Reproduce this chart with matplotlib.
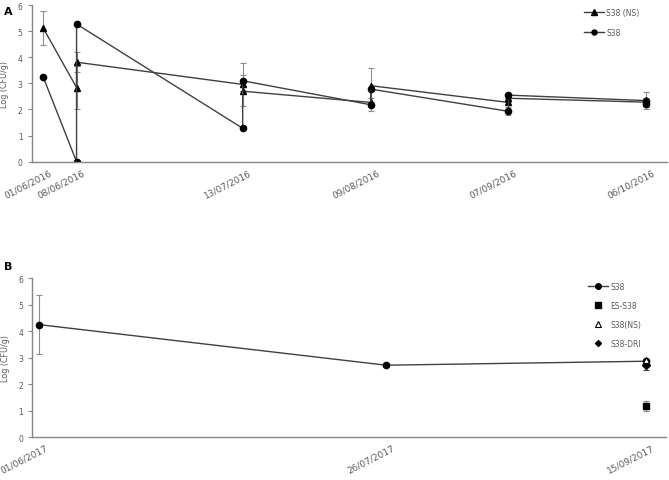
import numpy as np
import pandas as pd
import matplotlib
matplotlib.use('Agg')
import matplotlib.pyplot as plt
import matplotlib.dates as mdates
from matplotlib.lines import Line2D
from matplotlib.transforms import ScaledTranslation

# panel A - two measurements per sampling date, joined in order
a_dates = pd.to_datetime(['01/06/2016', '08/06/2016', '08/06/2016', '13/07/2016', '13/07/2016',
                          '09/08/2016', '09/08/2016', '07/09/2016', '07/09/2016', '06/10/2016',
                          '06/10/2016'], format='%d/%m/%Y')
a_tick_dates = pd.to_datetime(['01/06/2016', '08/06/2016', '13/07/2016', '09/08/2016',
                               '07/09/2016', '06/10/2016'], format='%d/%m/%Y')
ns_vals = [5.11, 2.84, 3.81, 2.96, 2.70, 2.27, 2.91, 2.27, 2.43, 2.28, 2.38]
ns_err = [0.65, 0.82, 0.38, 0.82, 0.0, 0.0, 0.67, 0.0, 0.0, 0.0, 0.28]
s38_vals = [3.23, 0.0, 5.27, 1.28, 3.10, 2.18, 2.78, 1.93, 2.55, 2.34, 2.22]
s38_err = [0.0, 0.0, 0.0, 0.0, 0.22, 0.25, 0.0, 0.15, 0.07, 0.0, 0.22]

# panel B
b_labels = ['01/06/2017', '26/07/2017', '15/09/2017']
b_pos = [0, 4, 7]
b_s38 = [4.25, 2.72, 2.87]
b_s38_err = [1.1, 0.05, 0.1]
b_es = 1.19
b_es_err = 0.18
b_ns = 2.92
b_dri = 2.72
b_dri_err = 0.2

line_col = '#404040'
err_col = '#8c8c8c'
txt_col = '#595959'
spine_col = '#868686'

fig = plt.figure(figsize=(6.69, 4.81), dpi=100)
axA = fig.add_axes([0.0474, 0.6617, 0.9496, 0.3258])
axB = fig.add_axes([0.0483, 0.0888, 0.9472, 0.3306])


def style_axis(ax):
    ax.spines['top'].set_visible(False)
    ax.spines['right'].set_visible(False)
    for s in ['left', 'bottom']:
        ax.spines[s].set_color(spine_col)
        ax.spines[s].set_linewidth(1.0)
    ax.set_ylim(0, 6)
    ax.set_yticks(range(0, 7))
    ax.tick_params(axis='y', colors=spine_col, labelcolor=txt_col, labelsize=5.5, length=3, width=0.8)
    ax.tick_params(axis='x', length=0, labelcolor=txt_col, labelsize=6.5, pad=4)
    ax.set_ylabel('Log (CFU/g)', fontsize=5.8, color=txt_col, labelpad=6)


def shift_labels(ax):
    off = ScaledTranslation(6 / 100, 0, fig.dpi_scale_trans)
    for lab in ax.get_xticklabels():
        lab.set_transform(lab.get_transform() + off)


# ---- panel A
axA.errorbar(a_dates, ns_vals, yerr=ns_err, fmt='none', ecolor=err_col, elinewidth=0.8, capsize=2, capthick=0.8)
axA.errorbar(a_dates, s38_vals, yerr=s38_err, fmt='none', ecolor=err_col, elinewidth=0.8, capsize=2, capthick=0.8)
axA.plot(a_dates, ns_vals, color=line_col, lw=1, marker='^', ms=5, mfc='black', mec='black', label='S38 (NS)')
axA.plot(a_dates, s38_vals, color=line_col, lw=1, marker='o', ms=4.5, mfc='black', mec='black', label='S38')
style_axis(axA)
d0 = mdates.date2num(a_tick_dates[0])
d5 = mdates.date2num(a_tick_dates[-1])
axA.set_xlim(d0 - 2.45, d5 + 4.4)
axA.set_xticks(a_tick_dates)
axA.set_xticklabels([d.strftime('%d/%m/%Y') for d in a_tick_dates], rotation=27, ha='right',
                    rotation_mode='anchor')
shift_labels(axA)
fig.legend(*axA.get_legend_handles_labels(), loc='upper left', bbox_to_anchor=(584 / 669, 1 - 9 / 481),
           frameon=False, fontsize=5.5, labelcolor=txt_col, handlelength=2.6, handletextpad=0.3,
           labelspacing=1.4, markerscale=0.8, borderpad=0, borderaxespad=0)
fig.text(0.006, 0.985, 'A', fontsize=8, fontweight='bold', va='top')

# ---- panel B
axB.errorbar(b_pos, b_s38, yerr=b_s38_err, fmt='none', ecolor=err_col, elinewidth=0.8, capsize=2, capthick=0.8)
axB.errorbar([b_pos[-1]], [b_es], yerr=[b_es_err], fmt='none', ecolor=err_col, elinewidth=0.8, capsize=2, capthick=0.8)
axB.errorbar([b_pos[-1]], [b_dri], yerr=[b_dri_err], fmt='none', ecolor=line_col, elinewidth=0.8, capsize=2, capthick=0.8)
axB.plot(b_pos, b_s38, color=line_col, lw=1, marker='o', ms=4.5, mfc='black', mec='black')
axB.plot([b_pos[-1]], [b_es], ls='none', marker='s', ms=5, color='black')
axB.plot([b_pos[-1]], [b_dri], ls='none', marker='D', ms=4, color='black')
axB.plot([b_pos[-1]], [b_ns], ls='none', marker='^', ms=4.5, mfc='white', mec='black', mew=0.8)
style_axis(axB)
axB.set_xlim(-0.08, b_pos[-1] + 0.23)
axB.set_xticks(b_pos)
axB.set_xticklabels(b_labels, rotation=27, ha='right', rotation_mode='anchor')
shift_labels(axB)
handles = [
    Line2D([], [], color=line_col, lw=1, marker='o', ms=4, mfc='black', mec='black'),
    Line2D([], [], ls='none', marker='s', ms=4, color='black'),
    Line2D([], [], ls='none', marker='^', ms=4, mfc='white', mec='black', mew=0.8),
    Line2D([], [], ls='none', marker='D', ms=3, color='black'),
]
fig.legend(handles, ['S38', 'ES-S38', 'S38(NS)', 'S38-DRI'], loc='upper left',
           bbox_to_anchor=(588 / 669, 1 - 283 / 481), frameon=False, fontsize=5.5, labelcolor=txt_col,
           handlelength=2.6, handletextpad=0.3, labelspacing=1.3, borderpad=0, borderaxespad=0)
fig.text(0.006, 0.455, 'B', fontsize=8, fontweight='bold', va='top')

fig.savefig('out.png', dpi=100)
